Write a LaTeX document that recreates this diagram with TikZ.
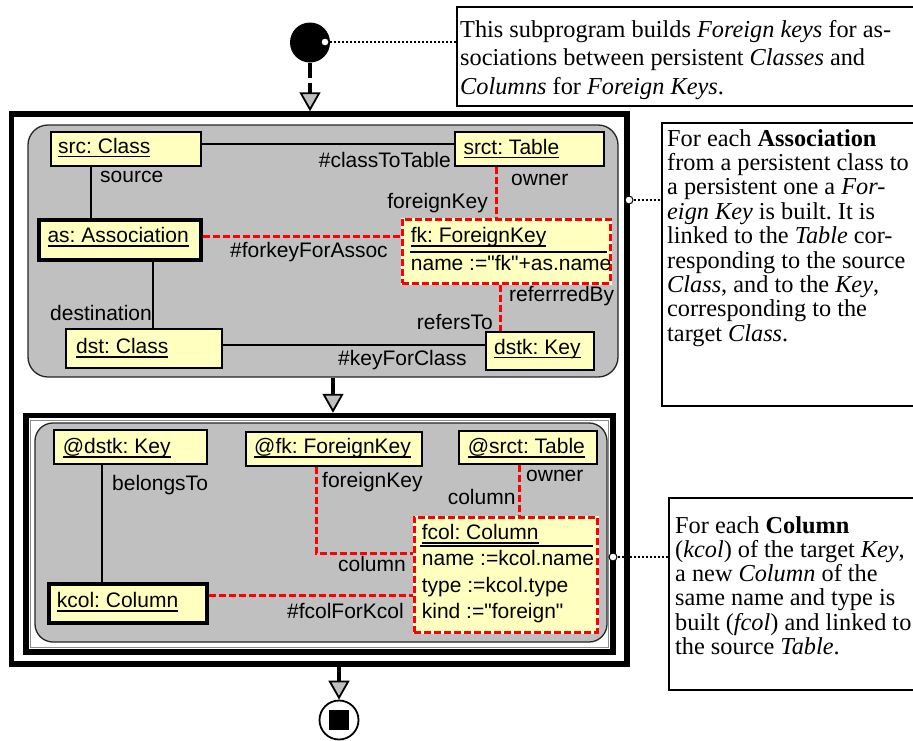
\documentclass[tikz,border=0pt]{standalone}
\usepackage{fontspec}
\setmainfont{Liberation Serif}
\newfontfamily\lsans{Liberation Sans}
\usetikzlibrary{arrows.meta}
\definecolor{objfill}{RGB}{255,255,192}
\definecolor{stategray}{RGB}{192,192,192}
\definecolor{linkred}{RGB}{255,0,0}
\frenchspacing
% underlined object name, rule at a fixed depth below the baseline
\newcommand\objname[1]{\setbox0\hbox{#1}\rlap{\rule[-4.3pt]{\wd0}{1.7pt}}\box0}

\begin{document}
\begin{tikzpicture}[x=1pt,y=-1pt,
  dims/.style 2 args={minimum width=#1pt, minimum height=#2pt, inner sep=0pt},
  oframe/.style={draw, line width=5.5pt},
  gstate/.style={draw=black!85, fill=stategray, line width=1.3pt},
  obj/.style={draw, fill=objfill, line width=1.8pt},
  mainobj/.style={draw, fill=objfill, line width=4.5pt},
  newobj/.style={fill=objfill, draw=linkred, line width=3pt, dash pattern=on 7pt off 3pt,
    preaction={draw=white, line width=3pt, solid}},
  notebox/.style={draw, fill=white, line width=1.8pt},
  portdot/.style={circle, draw, fill=white, line width=1pt, minimum size=8pt, inner sep=0pt},
  sans/.style={font=\lsans\fontsize{21pt}{26.3pt}\selectfont, inner sep=0pt},
  otext/.style={sans, anchor=base west},
  lblw/.style={sans, anchor=base west},
  lble/.style={sans, anchor=base east},
  notetext/.style={anchor=base west, inner sep=0pt},
  solidlink/.style={line width=1.6pt},
  redlink/.style={draw=linkred, line width=3pt, dash pattern=on 7pt off 3pt},
  dotlink/.style={line width=2pt, dash pattern=on 2pt off 2pt},
  flow/.style={line width=4pt, -{Triangle[width=21pt,length=19pt,fill=stategray,line width=1.8pt]}},
  sepline/.style={line width=1.8pt}
]
\useasboundingbox (0,0) rectangle (913,740);

% ---- comment notes
\node[notebox, dims={463}{99}] (note1) at (688.5,56.5) {};
\node[notebox, dims={258}{283}] (note2) at (791,264.5) {};
\node[notebox, dims={251}{192}] (note3) at (794.5,594) {};
\node[notetext, font=\fontsize{24.3pt}{28.7pt}\selectfont] (note1text) at (460,37)
  {\parbox[t]{450pt}{This subprogram builds \textit{Foreign keys} for as-\\sociations between persistent \textit{Classes} and\\\textit{Columns} for \textit{Foreign Keys}.}};
\node[notetext, font=\fontsize{24.3pt}{24.4pt}\selectfont] (note2text) at (667,146)
  {\parbox[t]{300pt}{For each \textbf{Association}\\from a persistent class to\\a persistent one a \textit{For-}\\\textit{eign Key} is built. It is\\linked to the \textit{Table} cor-\\responding to the source\\\textit{Class}, and to the \textit{Key},\\corresponding to the\\target \textit{Class}.}};
\node[notetext, font=\fontsize{24.3pt}{24.3pt}\selectfont] (note3text) at (675,533)
  {\parbox[t]{300pt}{For each \textbf{Column}\\(\textit{kcol}) of the target \textit{Key},\\a new \textit{Column} of the\\same name and type is\\built (\textit{fcol}) and linked to\\the source \textit{Table}.}};

% ---- activity frames
\node[oframe, dims={615.5}{550}] (outer) at (319.25,389) {};
\node[gstate, rounded corners=20pt, dims={590}{252}] (upper) at (323,251) {};
\node[oframe, dims={587}{236.5}] (lowerframe) at (319.5,533.75) {};
\node[draw=black!45, line width=0.8pt, dims={578}{227.5}] (lowerinner) at (319.5,533.75) {};
\node[gstate, rounded corners=18pt, dims={572}{219}] (lower) at (321,532.5) {};

% ---- start and end
\node[circle, fill=black, minimum size=40pt, inner sep=0pt] (start) at (310,42.5) {};
\node[circle, draw, fill=white, line width=1.8pt, minimum size=39pt, inner sep=0pt] (end) at (339,720) {};
\node[fill=black, minimum size=20pt, inner sep=0pt] (endsq) at (end) {};

% ---- upper pattern objects
\node[obj, dims={150}{34}] (src) at (126,149) {};
\node[obj, dims={149}{34}] (srct) at (529.5,149) {};
\node[mainobj, dims={162}{40}] (as) at (120,240) {};
\node[newobj, dims={208}{64}] (fk) at (506,251) {};
\node[obj, dims={156}{39}] (dst) at (144,348.5) {};
\node[obj, dims={108}{38}] (dstk) at (540,351) {};
\draw[sepline] (410,252) -- (607,252);

\node[otext] (t-src) at (58,153) {\objname{src: Class}};
\node[otext] (t-srct) at (463.3,154) {\objname{srct: Table}};
\node[otext] (t-as) at (47.3,242.3) {\objname{as: Association}};
\node[otext] (t-fk) at (410.7,242.3) {\objname{fk: ForeignKey}};
\node[otext] (t-fkattr) at (410.7,270.7) {name :="fk"+as.name};
\node[otext] (t-dst) at (76,353.3) {\objname{dst: Class}};
\node[otext] (t-dstk) at (494,354) {\objname{dstk: Key}};

% ---- lower pattern objects
\node[obj, dims={153}{34}] (dstk2) at (130.5,447) {};
\node[obj, dims={176}{34}] (fk2) at (334,449) {};
\node[obj, dims={138}{33}] (srct2) at (528,447.5) {};
\node[newobj, dims={183}{115}] (fcol) at (505.5,574.5) {};
\node[mainobj, dims={158}{39}] (kcol) at (128,603.5) {};
\draw[sepline] (420,546) -- (593,546);

\node[otext] (t-dstk2) at (62.7,453.3) {\objname{@dstk: Key}};
\node[otext] (t-fk2) at (254,453.3) {\objname{@fk: ForeignKey}};
\node[otext] (t-srct2) at (467.7,453.3) {\objname{@srct: Table}};
\node[otext] (t-fcol) at (421.7,539.3) {\objname{fcol: Column}};
\node[otext] (t-fcolattr) at (421.7,565.7) {\parbox[t]{300pt}{name :=kcol.name\\type :=kcol.type\\kind :="foreign"}};
\node[otext] (t-kcol) at (56.7,607.3) {\objname{kcol: Column}};

% ---- upper links
\draw[solidlink] ([yshift=5pt]src.east) -- ([yshift=5pt]src.east -| srct.west);
\draw[solidlink] ([xshift=-35pt]src.south) -- ([xshift=-35pt]src.south |- as.north);
\draw[solidlink] ([xshift=33pt]as.south) -- ([xshift=33pt]as.south |- dst.north);
\draw[solidlink] ([yshift=3.5pt]dst.east) -- ([yshift=3.5pt]dst.east -| dstk.west);
\draw[redlink] ([xshift=-33.5pt]srct.south) -- ([xshift=-33.5pt]srct.south |- fk.north);
\draw[redlink] ([yshift=4pt]as.east) -- ([yshift=4pt]as.east -| fk.west);
\draw[redlink] ([xshift=-6pt]fk.south) -- ([xshift=-6pt]fk.south |- dstk.north);

\node[lble] (l-classtotable) at (451,167.3) {\#classToTable};
\node[lblw] (l-source) at (100,182.7) {source};
\node[lblw] (l-owner1) at (511,185) {owner};
\node[lble] (l-fkey1) at (488,208) {foreignKey};
\node[lblw] (l-forkey) at (230,257.7) {\#forkeyForAssoc};
\node[lble] (l-dest) at (152,320) {destination};
\node[lblw] (l-keyforclass) at (338,365) {\#keyForClass};
\node[lblw] (l-refby) at (509,301.7) {referrredBy};
\node[lble] (l-refto) at (493,329) {refersTo};

% ---- lower links
\draw[solidlink] ([xshift=-28.5pt]dstk2.south) -- ([xshift=-28.5pt]dstk2.south |- kcol.north);
\draw[redlink] ([xshift=-18pt]fk2.south) |- ([yshift=21.5pt]fcol.west);
\draw[redlink] ([yshift=8.5pt]kcol.east) -- ([yshift=8.5pt]kcol.east -| fcol.west);
\draw[redlink] ([xshift=-9pt]srct2.south) -- ([xshift=-9pt]srct2.south |- fcol.north);

\node[lblw] (l-belongs) at (112,490) {belongsTo};
\node[lblw] (l-fkey2) at (322,487.7) {foreignKey};
\node[lble] (l-column1) at (406,571.7) {column};
\node[lble] (l-fcolfor) at (404,618.3) {\#fcolForKcol};
\node[lblw] (l-owner2) at (526,481.7) {owner};
\node[lble] (l-column2) at (515.7,504) {column};

% ---- control flow
\draw[flow, dash pattern=on 15pt off 5pt on 100pt off 0pt] (start) -- (start |- outer.north);
\draw[flow] ([xshift=10pt]upper.south) -- ([xshift=10pt]upper.south |- lowerframe.north);
\draw[flow] ([xshift=19.75pt]outer.south) -- ([xshift=19.75pt]outer.south |- end.north);

% ---- note anchors
\node[portdot] (p1) at (325,42) {};
\node[portdot] (p2) at (629,200) {};
\node[portdot] (p3) at (613,557) {};
\draw[dotlink] (p1) -- (p1 -| note1.west);
\draw[dotlink] (p2) -- (p2 -| note2.west);
\draw[dotlink] (p3) -- (p3 -| note3.west);
\end{tikzpicture}
\end{document}
